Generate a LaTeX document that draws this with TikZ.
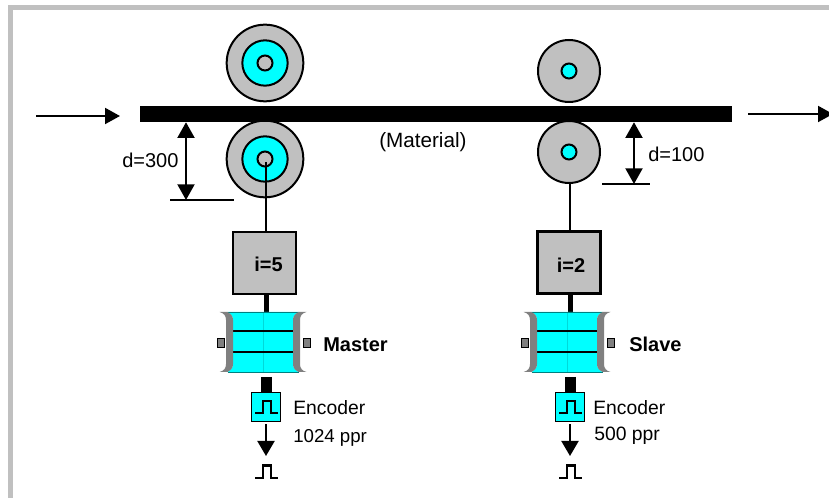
\documentclass[tikz,border=0pt]{standalone}
\usepackage{fontspec}
\setmainfont{Liberation Sans}
\usepackage{tikz}
\usetikzlibrary{calc,arrows.meta}
\definecolor{rollgray}{HTML}{C0C0C0}
\definecolor{capgray}{HTML}{808080}
\definecolor{aqua}{HTML}{00FFFF}
\tikzset{
    lbl/.style={anchor=base west, inner sep=0pt, font=\fontsize{14.5}{17}\selectfont},
    dimlbl/.style={anchor=base west, inner sep=0pt, font=\fontsize{15}{17}\selectfont},
    boldlbl/.style={anchor=base west, inner sep=0pt, font=\fontsize{15}{17}\selectfont\bfseries},
    roller/.style={circle, draw, line width=1.5pt, fill=rollgray, inner sep=0pt, minimum size=#1},
    ring/.style={circle, draw, line width=1.5pt, fill=aqua, inner sep=0pt, minimum size=#1},
    gearbox/.style={rectangle, draw, fill=rollgray, inner sep=0pt, minimum width=47pt, minimum height=46.5pt},
    encbox/.style={rectangle, draw, line width=0.5pt, fill=aqua, inner sep=0pt, minimum size=21.75pt},
    lug/.style={rectangle, draw, line width=0.5pt, fill=capgray, inner sep=0pt, minimum width=5.5pt, minimum height=6.5pt},
    flow/.style={line width=1.5pt, -{Triangle[width=12pt,length=11.25pt]}},
    dim/.style={line width=1.5pt, {Triangle[width=12.75pt,length=11.75pt]}-{Triangle[width=12.75pt,length=11.75pt]}},
    pulse/.style={line width=1.6pt, line join=miter}
}
\begin{document}
\begin{tikzpicture}[x=0.75pt, y=-0.75pt]
    \useasboundingbox (0,0) rectangle (829,498);
    \draw[line width=3.75pt, rollgray] (10,498) -- (10,7.5) -- (829,7.5);

    \node[roller=57.5pt] (rollMt) at (265,63) {};
    \node[ring=34pt] (ringMt) at (rollMt.center) {};
    \node[roller=11.25pt] (hubMt) at (rollMt.center) {};
    \node[roller=57.5pt] (rollMb) at (265,159) {};
    \node[ring=34pt] (ringMb) at (rollMb.center) {};
    \node[roller=11.25pt] (hubMb) at (rollMb.center) {};
    \node[roller=46.5pt] (rollSt) at (569,71) {};
    \node[ring=11.25pt] (hubSt) at (rollSt.center) {};
    \node[roller=46.5pt] (rollSb) at (569,152) {};
    \node[ring=11.25pt] (hubSb) at (rollSb.center) {};

    \node[rectangle, fill=black, inner sep=0pt, minimum width=444pt, minimum height=12pt] (belt) at (436,114) {};
    \coordinate (inA) at (36,116); \coordinate (inB) at (120,116);
    \coordinate (outA) at (748,114); \coordinate (outB) at (833,114);
    \draw[flow] (inA) -- (inB);
    \draw[flow] (outA) -- (outB);

    \coordinate (dimM) at (186,200); \coordinate (tickMa) at (170,200); \coordinate (tickMb) at (234,200);
    \coordinate (dimS) at (634,184); \coordinate (tickSa) at (602,184); \coordinate (tickSb) at (650,184);
    \draw[dim] (dimM |- belt.south) -- (dimM);
    \draw[dim] (dimS |- belt.south) -- (dimS);
    \draw[line width=1.5pt] (tickMa) -- (tickMb);
    \draw[line width=1.5pt] (tickSa) -- (tickSb);

    \node[gearbox, line width=1.5pt] (boxM) at (264.5,263) {};
    \node[gearbox, line width=2.25pt] (boxS) at (569,263) {};
    \coordinate (axisM) at (265.7,162); \coordinate (axisS) at (570,183);
    \draw[line width=1.5pt] (axisM) -- (axisM |- boxM.north);
    \draw[line width=1.5pt] (axisS) -- (axisS |- boxS.north);

    \foreach \x/\n in {266/M, 570/S} {
        \coordinate (c\n) at (\x-3,342);
        \coordinate (top\n) at (\x,312);
        \coordinate (low\n) at (\x,377);
        \draw[line width=3.75pt] (top\n |- box\n.south) -- (top\n);
        \fill[aqua] ($(c\n)+(-35.5,-30)$) .. controls ($(c\n)+(-32,-28)$) and ($(c\n)+(-30,-26)$) .. ($(c\n)+(-30,-22)$)
            -- ($(c\n)+(-30,22)$) .. controls ($(c\n)+(-30,26)$) and ($(c\n)+(-32,28)$) .. ($(c\n)+(-35.5,30)$)
            -- ($(c\n)+(35.5,30)$) .. controls ($(c\n)+(32,28)$) and ($(c\n)+(30,26)$) .. ($(c\n)+(30,22)$)
            -- ($(c\n)+(30,-22)$) .. controls ($(c\n)+(30,-26)$) and ($(c\n)+(32,-28)$) .. ($(c\n)+(35.5,-30)$) -- cycle;
        \draw[line width=0.3pt, aqua!85!black] ($(c\n)+(0,-30)$) -- ($(c\n)+(0,30)$);
        \draw[line width=0.5pt, aqua!50!black] ($(c\n)+(-35.5,-30)$) -- ($(c\n)+(35.5,-30)$);
        \draw[line width=0.5pt, aqua!50!black] ($(c\n)+(-35.5,30)$) -- ($(c\n)+(35.5,30)$);
        \draw[line width=2pt] ($(c\n)+(-30,-11)$) -- ($(c\n)+(30,-11)$);
        \draw[line width=2pt] ($(c\n)+(-30,10)$) -- ($(c\n)+(30,10)$);
        \fill[capgray] ($(c\n)+(-43.5,-30)$) .. controls ($(c\n)+(-39,-29)$) and ($(c\n)+(-37,-26)$) .. ($(c\n)+(-37,-22)$)
            -- ($(c\n)+(-37,22)$) .. controls ($(c\n)+(-37,26)$) and ($(c\n)+(-39,29)$) .. ($(c\n)+(-43.5,30)$)
            -- ($(c\n)+(-35.5,30)$) .. controls ($(c\n)+(-32,28)$) and ($(c\n)+(-30,26)$) .. ($(c\n)+(-30,22)$)
            -- ($(c\n)+(-30,-22)$) .. controls ($(c\n)+(-30,-26)$) and ($(c\n)+(-32,-28)$) .. ($(c\n)+(-35.5,-30)$) -- cycle;
        \fill[capgray] ($(c\n)+(43.5,-30)$) .. controls ($(c\n)+(39,-29)$) and ($(c\n)+(37,-26)$) .. ($(c\n)+(37,-22)$)
            -- ($(c\n)+(37,22)$) .. controls ($(c\n)+(37,26)$) and ($(c\n)+(39,29)$) .. ($(c\n)+(43.5,30)$)
            -- ($(c\n)+(35.5,30)$) .. controls ($(c\n)+(32,28)$) and ($(c\n)+(30,26)$) .. ($(c\n)+(30,22)$)
            -- ($(c\n)+(30,-22)$) .. controls ($(c\n)+(30,-26)$) and ($(c\n)+(32,-28)$) .. ($(c\n)+(35.5,-30)$) -- cycle;
        \node[lug] (lugL\n) at ($(c\n)+(-42,1)$) {};
        \node[lug] (lugR\n) at ($(c\n)+(43.5,1)$) {};
        \node[encbox] (enc\n) at (\x-0.5,406.5) {};
        \draw[line width=8.25pt] (low\n) -- (low\n |- enc\n.north);
        \draw[pulse] (\x-11,413) -- ++(8,0) -- ++(0,-12) -- ++(8,0) -- ++(0,12) -- ++(7,0);
        \coordinate (sig\n) at (\x,456);
        \draw[line width=1.5pt, -{Triangle[width=12.75pt,length=11.25pt]}] ($(enc\n.south -| sig\n)+(0,3)$) -- (sig\n);
        \draw[pulse] (\x-11,478) -- ++(8,0) -- ++(0,-12.5) -- ++(8,0) -- ++(0,12.5) -- ++(7,0);
    }

    \node[lbl, font=\fontsize{15.5}{17}\selectfont] (matl) at (379,148) {(Material)};
    \node[dimlbl] (dM) at (122,168) {d=300};
    \node[dimlbl] (dS) at (648,162) {d=100};
    \node[boldlbl] (ratioM) at (254,271.5) {i=5};
    \node[boldlbl] (ratioS) at (556.5,272.5) {i=2};
    \node[boldlbl] (master) at (323,351.5) {Master};
    \node[boldlbl] (slave) at (629,352) {Slave};
    \node[lbl] (encM) at (293,415) {Encoder};
    \node[lbl, font=\fontsize{14}{17}\selectfont] (pprM) at (293,442.5) {1024 ppr};
    \node[lbl] (encS) at (593,415) {Encoder};
    \node[lbl] (pprS) at (594,440.5) {500 ppr};
\end{tikzpicture}
\end{document}
